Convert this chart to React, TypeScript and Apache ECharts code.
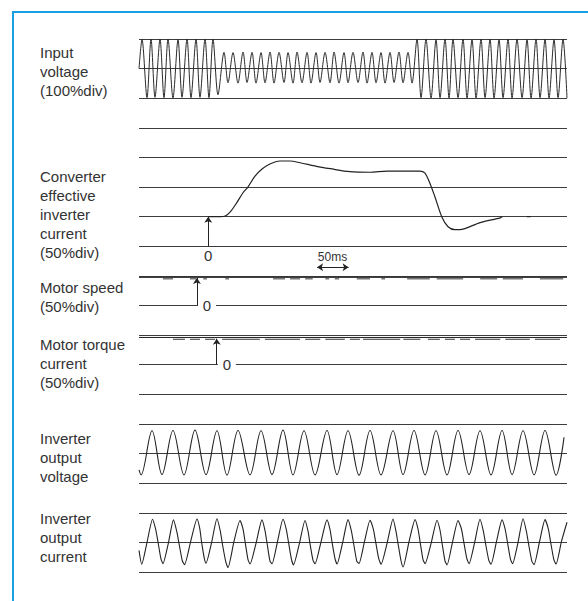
import React, { useEffect, useRef } from "react";
import * as echarts from "echarts";

// Horizontal axis: time in ms across the trace area. Vertical axis: divisions counted up from the bottom grid line.
const TIME_MAX = 680;
const DIVISIONS = 18;

const panelLabels = [
  "Input\nvoltage\n(100%div)",
  "Converter\neffective\ninverter\ncurrent\n(50%div)",
  "Motor speed\n(50%div)",
  "Motor torque\ncurrent\n(50%div)",
  "Inverter\noutput\nvoltage",
  "Inverter\noutput\ncurrent",
];

// Input voltage (100%/div): extrema times (ms) and levels (%)
const inputTimes = [
  0, 4.8, 12.7, 19.1, 25.4, 33.4, 39.7, 46.1, 54.0, 62.0, 68.3, 76.3, 82.6, 90.6, 96.9, 104.9, 111.2, 117.6, 125.5,
  135.1, 141.4, 149.4, 157.3, 165.3, 171.6, 179.6, 185.9, 193.9, 200.2, 208.2, 214.5, 222.5, 230.4, 236.8, 244.7,
  251.1, 259.0, 267.0, 273.3, 281.3, 287.6, 295.6, 303.5, 309.9, 317.8, 325.7, 332.1, 340.0, 348.0, 355.9, 362.3,
  370.2, 376.6, 384.5, 390.9, 398.8, 405.2, 413.1, 419.5, 427.4, 433.8,
  441.7, 448.1, 456.0, 464.0, 471.9, 478.3, 486.2, 492.6, 498.9, 506.9, 514.8, 521.2, 529.1, 535.5, 543.4, 549.8,
  557.7, 564.1, 572.0, 578.4, 586.3, 592.7, 600.6, 608.6, 616.5, 622.9, 630.8, 637.2, 645.1, 651.5, 659.4, 665.8,
  673.7, 680,
];
const inputPercent = [
  0, 98, -98, 100, -97, 99, -98, 100, -99, 98, -97, 100, -98, 99, -97, 100, -98, 99, -88,
  55, -48, 54, -49, 56, -47, 55, -49, 54, -48, 56, -49, 55, -47, 54, -49, 56, -48, 55, -49, 54, -47,
  55, -48, 56, -49, 54, -48, 55, -47, 56, -49, 55, -48, 54, -49, 55, -47, 56, -48, 55, -49,
  99, -98, 100, -99, 98, -98, 100, -99, 99, -98, 100, -99, 98, -99, 100, -98, 99, -99, 98, -98, 100, -99,
  99, -98, 98, -99, 100, -98, 99, -99, 98, -98, 99, -99,
];

// Converter effective inverter current (50%/div)
const convTimes = [110, 129, 137, 145, 155, 165, 173, 184, 195, 208, 224, 240, 256, 282, 304, 335, 367, 394, 446, 454, 462, 470, 481, 491, 502, 515, 542, 574, 577];
const convPercent = [0, 0, 1, 8, 23, 40, 50, 68, 80, 89, 94, 94, 91, 85, 81, 76, 75, 77, 77, 74, 57, 34, 0, -17, -22, -21, -10, -2, 0];
const convTailTimes = [616, 622];
const convTailPercent = [0, 0];

// Motor speed (50%/div)
const speedLevel = 47.5;
const speedRipple = 45;
const speedRippleStart = [38, 81, 102, 137, 213, 240, 264, 296, 311, 346, 385, 426, 473, 542, 578, 637];
const speedRippleEnd = [54, 91, 108, 143, 232, 256, 276, 302, 318, 367, 391, 462, 515, 569, 610, 674];

// Motor torque current (50%/div)
const torqueLevel = 46;
const torqueRipple = 43;
const torqueRippleStart = [54, 81, 105, 132, 200, 264, 296, 335, 356, 420, 459, 486, 510, 534, 582, 629];
const torqueRippleEnd = [73, 97, 121, 192, 256, 288, 327, 351, 415, 447, 478, 502, 526, 574, 621, 669];

// Inverter output voltage (div)
const voltageTimes = [
  0, 3.2, 20.7, 36.5, 54.0, 71.5, 89.0, 106.5, 123.9, 139.8, 157.3, 176.4, 193.9, 211.3, 228.8, 244.7, 262.2, 279.7,
  298.7, 314.6, 332.1, 349.6, 367.1, 384.5, 403.6, 419.5, 437.0, 454.5, 471.9, 489.4, 506.9, 524.4, 541.8, 559.3,
  576.8, 592.7, 610.2, 627.7, 645.1, 662.6, 675.3,
];
const voltageDivs = [
  -0.55, -0.72, 0.77, -0.71, 0.78, -0.72, 0.79, -0.71, 0.77, -0.73, 0.78, -0.72, 0.77, -0.71, 0.79, -0.72, 0.77, -0.72,
  0.78, -0.71, 0.77, -0.73, 0.78, -0.72, 0.77, -0.71, 0.78, -0.72, 0.77, -0.72, 0.78, -0.71, 0.77, -0.72, 0.78, -0.71,
  0.77, -0.72, 0.78, -0.73, 0.55,
];

// Inverter output current (div)
const currentTimes = [
  0,
  4.3, 12.9, 21.5, 26.5, 29.8, 34.8,
  38.1, 46.5, 54.8, 60.1, 63.6, 68.8,
  72.3, 82.3, 92.2, 96.5, 99.4, 103.6,
  106.5, 115.2, 123.9, 129.2, 132.7, 137.9,
  141.4, 151.0, 160.5, 165.3, 168.5, 173.2,
  176.4, 185.9, 195.4, 200.2, 203.4, 208.1,
  211.3, 220.1, 228.8, 233.8, 237.2, 242.2,
  245.5, 254.7, 263.8, 268.6, 271.8, 276.5,
  279.7, 289.2, 298.7, 303.5, 306.7, 311.4,
  314.6, 323.4, 332.1, 337.4, 340.9, 346.1,
  349.6, 358.4, 367.1, 372.3, 375.8, 381.0,
  384.5, 394.1, 403.6, 408.4, 411.6, 416.3,
  419.5, 429.1, 438.6, 443.4, 446.6, 451.3,
  454.5, 464.0, 473.5, 478.3, 481.5, 486.2,
  489.4, 498.2, 506.9, 512.2, 515.7, 520.9,
  524.4, 533.1, 541.8, 547.1, 550.6, 555.8,
  559.3, 568.1, 576.8, 581.8, 585.2, 590.2,
  593.5, 601.9, 610.2, 615.5, 619.0, 624.2,
  627.7, 636.4, 645.1, 650.4, 653.9, 659.1,
  662.6, 671.3, 680,
];
const currentDivs = [
  -0.27,
  -0.74, 0.02, 0.78, 0.44, 0.06, -0.55,
  -0.72, -0.04, 0.76, 0.36, -0.04, -0.62,
  -0.75, 0.05, 0.79, 0.47, 0.02, -0.52,
  -0.70, -0.02, 0.80, 0.38, -0.08, -0.66,
  -0.85, 0.04, 0.74, 0.45, 0.03, -0.58,
  -0.73, -0.03, 0.76, 0.40, -0.02, -0.63,
  -0.72, 0.03, 0.78, 0.46, 0.05, -0.57,
  -0.76, -0.05, 0.74, 0.37, -0.06, -0.61,
  -0.72, 0.02, 0.76, 0.43, 0.01, -0.55,
  -0.73, -0.02, 0.77, 0.39, -0.03, -0.64,
  -0.71, 0.04, 0.75, 0.45, 0.04, -0.56,
  -0.74, -0.03, 0.79, 0.36, -0.05, -0.62,
  -0.83, 0.03, 0.77, 0.44, 0.02, -0.59,
  -0.72, -0.04, 0.75, 0.41, -0.03, -0.63,
  -0.76, 0.02, 0.74, 0.46, 0.05, -0.55,
  -0.72, -0.02, 0.78, 0.38, -0.04, -0.61,
  -0.74, 0.04, 0.76, 0.44, 0.03, -0.57,
  -0.72, -0.03, 0.80, 0.37, -0.06, -0.64,
  -0.75, 0.03, 0.77, 0.45, 0.02, -0.58,
  -0.73, 0.04, 0.68,
];

// zero / centre level of each panel, in divisions from the bottom grid line
const BASE_INPUT = 17;
const BASE_CONV = 12;
const BASE_SPEED = 9;
const BASE_TORQUE = 7;
const BASE_VOLT = 4;
const BASE_CURR = 1;

const FONT = '"Liberation Sans", Arial, Helvetica, sans-serif';
const INK = "#222";
const TEXT = "#333";

function toPairs(ts: number[], vs: number[], base: number, perDiv: number) {
  return ts.map((t, i) => [t, base + vs[i] / perDiv]);
}
function toDashes(starts: number[], ends: number[], level: number, base: number, perDiv: number) {
  const out: any[] = [];
  starts.forEach((s, i) => {
    out.push([s, base + level / perDiv], [ends[i], base + level / perDiv], [ends[i], "-"]);
  });
  return out;
}

export default function App() {
  const ref = useRef<HTMLDivElement>(null);
  useEffect(() => {
    const chart = echarts.init(ref.current!, null, { renderer: "svg" });
    const trace = (data: any[], smooth: number | boolean, width = 1.1, color = INK, extra: any = {}) => ({
      type: "line",
      data,
      smooth,
      showSymbol: false,
      silent: true,
      connectNulls: false,
      lineStyle: { color, width },
      ...extra,
    });
    const arrowLine = (t: number, from: number, to: number) => [
      { coord: [t, from], symbol: "none" },
      { coord: [t, to], symbol: "arrow" },
    ];
    const zeroMark = (t: number, level: number, bg: boolean) => ({
      coord: [t, level],
      symbol: "rect",
      symbolSize: bg ? [18, 14] : [1, 1],
      itemStyle: { color: bg ? "#fff" : "rgba(0,0,0,0)" },
      label: { show: true, position: "inside", formatter: "0", color: TEXT, fontSize: 15, fontFamily: FONT },
    });
    const markLineBase = {
      silent: true,
      symbolSize: 6,
      label: { show: false },
      lineStyle: { color: INK, width: 1, type: "solid" },
      emphasis: { disabled: true },
    };

    const labelTops = [42.5, 166.5, 277.5, 334.5, 429, 508.5];

    const option: any = {
      animation: false,
      grid: { left: 139, right: 21, top: 39, bottom: 29 },
      xAxis: {
        type: "value",
        min: 0,
        max: TIME_MAX,
        axisLine: { show: false },
        axisTick: { show: false },
        axisLabel: { show: false },
        splitLine: { show: false },
      },
      yAxis: {
        type: "value",
        min: 0,
        max: DIVISIONS,
        interval: 1,
        axisLine: { show: false },
        axisTick: { show: false },
        axisLabel: { show: false },
        splitLine: { show: true, lineStyle: { color: "#3c3c3c", width: 1 } },
      },
      graphic: [
        { type: "line", shape: { x1: 13, y1: 11, x2: 13, y2: 601 }, style: { stroke: "#18a0e2", lineWidth: 2 } },
        { type: "line", shape: { x1: 12, y1: 12, x2: 588, y2: 12 }, style: { stroke: "#18a0e2", lineWidth: 2 } },
        ...panelLabels.map((text, i) => ({
          type: "text",
          x: 40,
          y: labelTops[i],
          style: { text, fontSize: 15, fontFamily: FONT, fill: TEXT, lineHeight: 19, verticalAlign: "top", align: "left" },
        })),
      ],
      series: [
        trace(toPairs(inputTimes, inputPercent, BASE_INPUT, 100), 0.3, 1, "#2a2a2a"),
        trace(
          [
            ...toPairs(convTimes, convPercent, BASE_CONV, 50),
            [convTimes[convTimes.length - 1] + 1, "-"],
            ...toPairs(convTailTimes, convTailPercent, BASE_CONV, 50),
          ],
          0.3,
          1.2,
          INK,
          {
            markLine: {
              ...markLineBase,
              data: [
                arrowLine(110, BASE_CONV - 1, BASE_CONV),
                [
                  { coord: [283, 10.29], symbol: "arrow" },
                  { coord: [333, 10.29], symbol: "arrow" },
                ],
              ],
            },
            markPoint: {
              silent: true,
              data: [
                zeroMark(110, 10.69, false),
                {
                  coord: [307.5, 10.64],
                  symbol: "rect",
                  symbolSize: [1, 1],
                  itemStyle: { color: "rgba(0,0,0,0)" },
                  label: { show: true, position: "inside", formatter: "50ms", color: TEXT, fontSize: 12, fontFamily: FONT },
                },
              ],
            },
          }
        ),
        trace([[0, BASE_SPEED + speedLevel / 50], [TIME_MAX, BASE_SPEED + speedLevel / 50]], false, 1, INK, {
          markLine: { ...markLineBase, data: [arrowLine(92, BASE_SPEED, BASE_SPEED + 0.93)] },
          markPoint: { silent: true, data: [zeroMark(108, BASE_SPEED, true)] },
        }),
        trace(toDashes(speedRippleStart, speedRippleEnd, speedRipple, BASE_SPEED, 50), false, 1, "#333"),
        trace([[0, BASE_TORQUE + torqueLevel / 50], [TIME_MAX, BASE_TORQUE + torqueLevel / 50]], false, 1, INK, {
          markLine: { ...markLineBase, data: [arrowLine(123.5, BASE_TORQUE, BASE_TORQUE + 0.88)] },
          markPoint: { silent: true, data: [zeroMark(139.5, BASE_TORQUE, true)] },
        }),
        trace(toDashes(torqueRippleStart, torqueRippleEnd, torqueRipple, BASE_TORQUE, 50), false, 1, "#333"),
        trace(toPairs(voltageTimes, voltageDivs, BASE_VOLT, 1), 0.35, 1.1),
        trace(toPairs(currentTimes, currentDivs, BASE_CURR, 1), 0.2, 1.1),
      ],
    };
    chart.setOption(option);
    return () => chart.dispose();
  }, []);
  return (
    <div
      ref={ref}
      style={{ position: "fixed", left: 0, top: 0, width: 588, height: 601, background: "#fff" }}
    />
  );
}
